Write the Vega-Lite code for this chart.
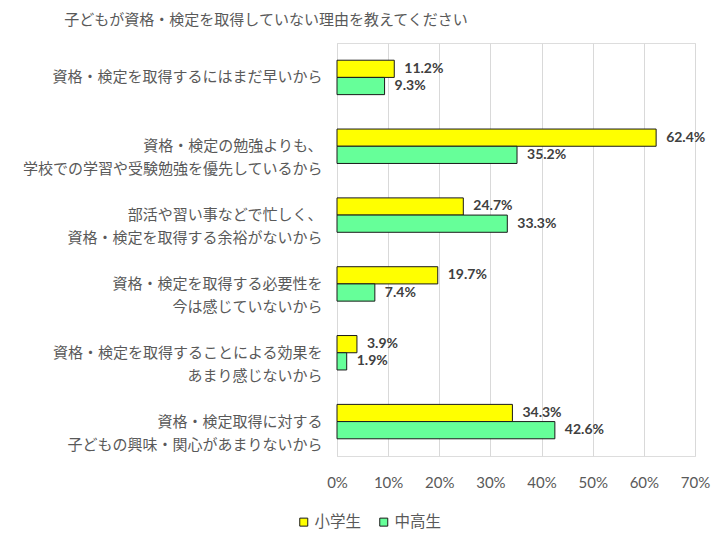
{
  "$schema": "https://vega.github.io/schema/vega-lite/v6.json",
  "width": 358,
  "height": 413,
  "autosize": "none",
  "padding": {"left": 337, "top": 43, "right": 32, "bottom": 87},
  "background": "white",
  "title": {
    "text": "子どもが資格・検定を取得していない理由を教えてください",
    "font": "Noto Sans CJK JP",
    "fontSize": 15,
    "fontWeight": "normal",
    "color": "#595959",
    "anchor": "middle",
    "dx": -250,
    "offset": 15
  },
  "data": {
    "values": [
      {"reason": "資格・検定を取得するにはまだ早いから", "group": "小学生", "value": 11.2},
      {"reason": "資格・検定を取得するにはまだ早いから", "group": "中高生", "value": 9.3},
      {"reason": "資格・検定の勉強よりも、|学校での学習や受験勉強を優先しているから", "group": "小学生", "value": 62.4},
      {"reason": "資格・検定の勉強よりも、|学校での学習や受験勉強を優先しているから", "group": "中高生", "value": 35.2},
      {"reason": "部活や習い事などで忙しく、|資格・検定を取得する余裕がないから", "group": "小学生", "value": 24.7},
      {"reason": "部活や習い事などで忙しく、|資格・検定を取得する余裕がないから", "group": "中高生", "value": 33.3},
      {"reason": "資格・検定を取得する必要性を|今は感じていないから", "group": "小学生", "value": 19.7},
      {"reason": "資格・検定を取得する必要性を|今は感じていないから", "group": "中高生", "value": 7.4},
      {"reason": "資格・検定を取得することによる効果を|あまり感じないから", "group": "小学生", "value": 3.9},
      {"reason": "資格・検定を取得することによる効果を|あまり感じないから", "group": "中高生", "value": 1.9},
      {"reason": "資格・検定取得に対する|子どもの興味・関心があまりないから", "group": "小学生", "value": 34.3},
      {"reason": "資格・検定取得に対する|子どもの興味・関心があまりないから", "group": "中高生", "value": 42.6}
    ]
  },
  "encoding": {
    "y": {
      "field": "reason",
      "type": "nominal",
      "sort": [
        "資格・検定を取得するにはまだ早いから",
        "資格・検定の勉強よりも、|学校での学習や受験勉強を優先しているから",
        "部活や習い事などで忙しく、|資格・検定を取得する余裕がないから",
        "資格・検定を取得する必要性を|今は感じていないから",
        "資格・検定を取得することによる効果を|あまり感じないから",
        "資格・検定取得に対する|子どもの興味・関心があまりないから"
      ],
      "scale": {"paddingInner": 0.5, "paddingOuter": 0.25},
      "axis": {
        "title": null,
        "ticks": false,
        "domain": true,
        "domainColor": "#d9d9d9",
        "domainWidth": 1,
        "labelExpr": "split(datum.label, '|')",
        "labelFont": "Noto Sans CJK JP",
        "labelFontSize": 15,
        "labelColor": "#595959",
        "labelPadding": 15,
        "labelLimit": 400,
        "labelLineHeight": 23,
        "labelAlign": "right",
        "labelBaseline": "middle"
      }
    },
    "yOffset": {
      "field": "group",
      "type": "nominal",
      "sort": ["小学生", "中高生"],
      "scale": {"paddingInner": 0, "paddingOuter": 0}
    },
    "x": {
      "field": "value",
      "type": "quantitative",
      "scale": {"domain": [0, 70], "nice": false},
      "axis": {
        "title": null,
        "values": [0, 10, 20, 30, 40, 50, 60, 70],
        "labelExpr": "datum.value + '%'",
        "labelFlush": false,
        "labelOverlap": false,
        "grid": true,
        "gridColor": "#d9d9d9",
        "gridWidth": 1,
        "domain": false,
        "ticks": false,
        "labelFont": "Lato",
        "labelFontSize": 15,
        "labelColor": "#595959",
        "labelPadding": 19
      }
    }
  },
  "layer": [
    {
      "mark": {"type": "bar", "stroke": "#1a1a1a", "strokeWidth": 1},
      "encoding": {
        "color": {
          "field": "group",
          "type": "nominal",
          "sort": ["小学生", "中高生"],
          "scale": {"domain": ["小学生", "中高生"], "range": ["#FFFF00", "#66FF99"]},
          "legend": {
            "title": null,
            "orient": "none",
            "direction": "horizontal",
            "legendX": -41,
            "legendY": 471,
            "symbolType": "square",
            "symbolSize": 64,
            "symbolStrokeColor": "#1a1a1a",
            "symbolStrokeWidth": 1,
            "labelFont": "Noto Sans CJK JP",
            "labelFontSize": 15.5,
            "labelColor": "#595959",
            "columnPadding": 14,
            "labelOffset": 3
          }
        }
      }
    },
    {
      "transform": [{"calculate": "format(datum.value, '.1f') + '%'", "as": "label"}],
      "mark": {
        "type": "text",
        "align": "left",
        "baseline": "middle",
        "dx": 10,
        "font": "Lato",
        "fontSize": 14,
        "fontWeight": "bold",
        "color": "#404040"
      },
      "encoding": {
        "text": {"field": "label", "type": "nominal"}
      }
    }
  ]
}
